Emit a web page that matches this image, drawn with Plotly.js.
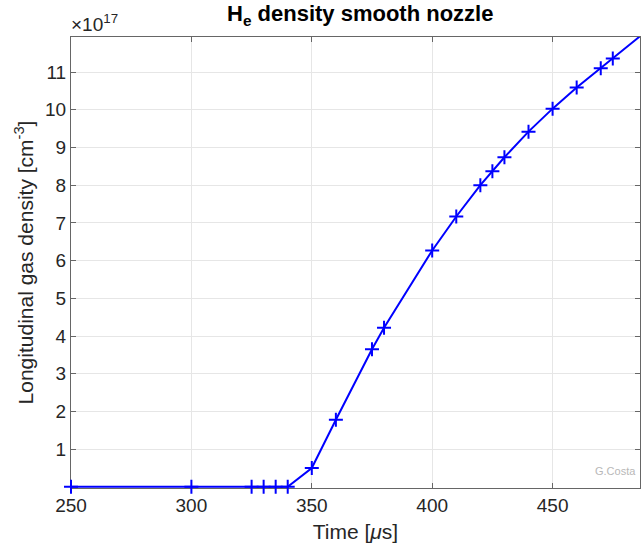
<!DOCTYPE html>
<html>
<head>
<meta charset="utf-8">
<script src="https://cdn.plot.ly/plotly-3.0.1.min.js"></script>
<style>html,body{margin:0;padding:0;background:#fff;}#chart{width:641px;height:549px;}</style>
</head>
<body>
<div id="chart"></div>
<script>
// Time [µs]
const timeUs = [250, 300, 325, 330, 335, 340, 350, 360, 375, 380, 400, 410, 420, 425, 430, 440, 450, 460, 470, 475, 490];
// Longitudinal gas density [x1e17 cm^-3]
const density = [0, 0, 0, 0, 0, 0, 0.50, 1.78, 3.65, 4.22, 6.27, 7.17, 8.00, 8.37, 8.74, 9.42, 10.03, 10.59, 11.10, 11.36, 12.14];
const xTicks = [250, 300, 350, 400, 450];
const yTicks = [1, 2, 3, 4, 5, 6, 7, 8, 9, 10, 11];

const font = 'Liberation Sans, Arial, Helvetica, sans-serif';

const trace = {
  x: timeUs, y: density, type: 'scatter', mode: 'lines+markers',
  line: {color: '#0000ff', width: 2},
  marker: {symbol: 'cross-thin', size: 10, color: '#0000ff', line: {color: '#0000ff', width: 2}},
  cliponaxis: false, showlegend: false
};

const layout = {
  width: 641, height: 549,
  margin: {l: 71, r: 1, t: 37, b: 61},
  paper_bgcolor: '#fff', plot_bgcolor: '#fff',
  font: {family: font, color: '#262626'},
  title: {text: '<b>H<sub>e</sub> density smooth nozzle</b>', font: {size: 22, color: '#000', family: font}, x: 0.562, xanchor: 'center', y: 0.99, yanchor: 'top'},
  xaxis: {
    range: [250, 486.3], tickvals: xTicks, ticktext: xTicks.map(String),
    showgrid: true, gridcolor: '#e6e6e6', gridwidth: 1,
    showline: true, linecolor: '#666', linewidth: 1, mirror: 'ticks',
    ticks: 'inside', ticklen: 5, tickcolor: '#666', layer: 'below traces',
    tickfont: {size: 19, color: '#262626'}, zeroline: false,
    title: {text: 'Time [<i>μ</i>s]', font: {size: 21, color: '#262626'}, standoff: 9}
  },
  yaxis: {
    range: [-0.03, 11.93], tickvals: yTicks, ticktext: yTicks.map(String),
    showgrid: true, gridcolor: '#e6e6e6', gridwidth: 1,
    showline: true, linecolor: '#666', linewidth: 1, mirror: 'ticks',
    ticks: 'inside', ticklen: 5, tickcolor: '#666', layer: 'below traces',
    tickfont: {size: 19, color: '#262626'}, zeroline: false,
    title: {text: 'Longitudinal gas density [cm<sup>-3</sup>]', font: {size: 21, color: '#262626'}, standoff: 5}
  },
  annotations: [
    {text: '×10<sup>17</sup>', xref: 'paper', yref: 'paper', x: 0, y: 1, xanchor: 'left', yanchor: 'bottom', yshift: 0, xshift: -2, showarrow: false, font: {size: 19, color: '#262626'}},
    {text: 'G.Costa', xref: 'paper', yref: 'paper', x: 1, y: 0, xanchor: 'right', yanchor: 'bottom', xshift: -2, yshift: 9, showarrow: false, font: {size: 11, color: '#b8b8b8'}}
  ]
};

Plotly.newPlot('chart', [trace], layout, {displayModeBar: false, staticPlot: true});
</script>
</body>
</html>
